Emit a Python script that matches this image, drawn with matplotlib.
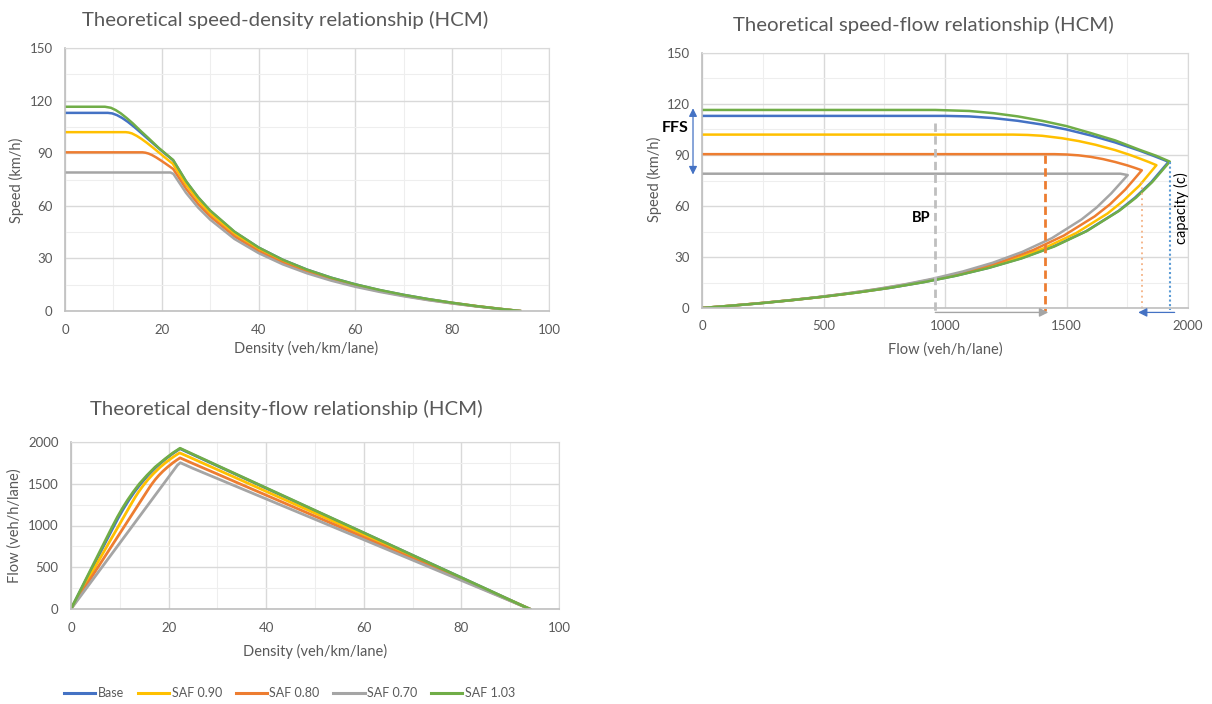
import matplotlib
matplotlib.use("Agg")
import matplotlib.pyplot as plt
from matplotlib.ticker import MultipleLocator
from matplotlib.lines import Line2D

W, H = 1212, 704
plt.rcParams['font.family'] = ['Lato', 'DejaVu Sans']

# ---------------- data ----------------
series_names = ["Base", "SAF 0.90", "SAF 0.80", "SAF 0.70", "SAF 1.03"]
series_colors = ["#4472C4", "#FFC000", "#ED7D31", "#A5A5A5", "#70AD47"]

base_density = [0, 8.85, 9.76, 10.74, 11.81, 12.97, 14.29, 15.76, 17.45, 19.44, 20.81, 22.33,
                25, 27.5, 30, 35, 40, 45, 50, 55, 60, 65, 70, 75, 80, 85, 90, 94]
base_speed = [113, 113, 112.7, 111.7, 110.1, 107.9, 105.0, 101.5, 97.4, 92.6, 89.4, 86.0,
              73.9, 64.8, 57.1, 45.1, 36.2, 29.2, 23.6, 19.0, 15.2, 11.9, 9.2, 6.8, 4.7, 2.8, 1.2, 0]
base_flow = [0, 1000, 1100, 1200, 1300, 1400, 1500, 1600, 1700, 1800, 1860, 1920,
             1848, 1781, 1714, 1580, 1446, 1312, 1178, 1044, 911, 777, 643, 509, 375, 241, 107, 0]

saf090_density = [0, 12.55, 13.16, 13.82, 14.81, 15.78, 16.88, 18.30, 19.53, 20.45, 21.44, 22.26,
                  25, 27.5, 30, 35, 40, 45, 50, 55, 60, 65, 70, 75, 80, 85, 90, 94]
saf090_speed = [102, 102, 101.8, 101.3, 99.9, 98.2, 96.0, 92.9, 90.1, 88.0, 85.8, 84.0,
                72.0, 63.1, 55.6, 44.0, 35.2, 28.4, 23.0, 18.5, 14.8, 11.6, 8.9, 6.6, 4.6, 2.8, 1.2, 0]
saf090_flow = [0, 1280, 1340, 1400, 1480, 1550, 1620, 1700, 1760, 1800, 1840, 1870,
               1800, 1734, 1669, 1539, 1408, 1278, 1148, 1017, 887, 756, 626, 496, 365, 235, 104, 0]

saf080_density = [0, 16.02, 16.61, 17.26, 18.00, 18.84, 19.79, 20.86, 21.58, 22.35,
                  25, 27.5, 30, 35, 40, 45, 50, 55, 60, 65, 70, 75, 80, 85, 90, 94]
saf080_speed = [90.5, 90.5, 90.3, 89.8, 88.9, 87.6, 85.9, 83.9, 82.5, 81.0,
                69.7, 61.0, 53.9, 42.6, 34.1, 27.5, 22.2, 17.9, 14.3, 11.3, 8.7, 6.4, 4.4, 2.7, 1.1, 0]
saf080_flow = [0, 1450, 1500, 1550, 1600, 1650, 1700, 1750, 1780, 1810,
               1742, 1679, 1616, 1489, 1363, 1237, 1111, 985, 858, 732, 606, 480, 353, 227, 101, 0]

saf070_density = [0, 21.8, 22.4, 25, 27.5, 30, 35, 40, 45, 50, 55, 60, 65, 70, 75, 80, 85, 90, 94]
saf070_speed = [79, 79, 78.2, 67.4, 59.0, 52.1, 41.1, 33.0, 26.6, 21.5, 17.3, 13.8, 10.9, 8.4, 6.2, 4.3, 2.6, 1.1, 0]
saf070_flow = [0, 1722, 1752, 1684, 1623, 1562, 1440, 1318, 1196, 1074, 952, 830, 708, 586, 464, 342, 220, 98, 0]

saf103_density = [0, 8.24, 9.49, 10.47, 11.54, 12.72, 14.02, 15.55, 17.24, 19.33, 20.89, 22.35,
                  25, 27.5, 30, 35, 40, 45, 50, 55, 60, 65, 70, 75, 80, 85, 90, 94]
saf103_speed = [116.5, 116.5, 115.9, 114.6, 112.7, 110.1, 107.0, 102.9, 98.6, 93.1, 89.5, 86.1,
                74.1, 64.9, 57.3, 45.3, 36.2, 29.2, 23.6, 19.0, 15.2, 12.0, 9.2, 6.8, 4.7, 2.8, 1.2, 0]
saf103_flow = [0, 960, 1100, 1200, 1300, 1400, 1500, 1600, 1700, 1800, 1870, 1925,
               1853, 1786, 1718, 1584, 1450, 1316, 1181, 1047, 913, 779, 644, 510, 376, 242, 107, 0]

all_density = [base_density, saf090_density, saf080_density, saf070_density, saf103_density]
all_speed = [base_speed, saf090_speed, saf080_speed, saf070_speed, saf103_speed]
all_flow = [base_flow, saf090_flow, saf080_flow, saf070_flow, saf103_flow]

# annotation values (speed-flow chart)
bp_flow = 960
bp_dash_top = 109
sat_flow = 1410
sat_speed = 90
cap_flow_saf080 = 1809
cap_flow = 1924
cap_speed = 86
ffs_top, ffs_bottom = 117.5, 78.5

TXT = "#595959"

fig = plt.figure(figsize=(W / 100, H / 100), dpi=100)


def px_axes(l, t, r, b):
    return fig.add_axes([l / W, 1 - b / H, (r - l) / W, (b - t) / H])


def style(ax, xmax, xmaj, xmin, ymax, ymaj, ymin):
    ax.set_xlim(0, xmax)
    ax.set_ylim(0, ymax)
    ax.xaxis.set_major_locator(MultipleLocator(xmaj))
    ax.xaxis.set_minor_locator(MultipleLocator(xmin))
    ax.yaxis.set_major_locator(MultipleLocator(ymaj))
    ax.yaxis.set_minor_locator(MultipleLocator(ymin))
    ax.grid(which='major', color='#D9D9D9', lw=1.0)
    ax.grid(which='minor', color='#EEEEEE', lw=0.8)
    ax.set_axisbelow(True)
    ax.tick_params(which='both', length=0, labelsize=9.5, colors=TXT)
    ax.tick_params(axis='x', pad=9)
    ax.tick_params(axis='y', pad=9)
    for s in ['top', 'right']:
        ax.spines[s].set_color('#D9D9D9')
    for s in ['left', 'bottom']:
        ax.spines[s].set_color('#BFBFBF')
        ax.spines[s].set_linewidth(1.2)


def ftext(x, y, s, **kw):
    fig.text(x / W, 1 - y / H, s, ha='center', va='center', color=TXT, **kw)


# ---------------- speed-density ----------------
ax1 = px_axes(65, 48, 549, 311)
style(ax1, 100, 20, 10, 150, 30, 15)
for d, s, c in zip(all_density, all_speed, series_colors):
    ax1.plot(d, s, color=c, lw=1.8, solid_joinstyle='round')
ftext(285, 20, "Theoretical speed-density relationship (HCM)", fontsize=14.7)
ftext(306, 348, "Density (veh/km/lane)", fontsize=10.5)
ftext(16, 180, "Speed (km/h)", fontsize=10.5, rotation=90)

# ---------------- speed-flow ----------------
ax2 = px_axes(702, 53, 1188, 308)
style(ax2, 2000, 500, 250, 150, 30, 15)
for q, s, c in zip(all_flow, all_speed, series_colors):
    ax2.plot(q, s, color=c, lw=1.8, solid_joinstyle='round')
ftext(923, 25, "Theoretical speed-flow relationship (HCM)", fontsize=14.7)
ftext(945, 350, "Flow (veh/h/lane)", fontsize=10.5)
ftext(654, 179, "Speed (km/h)", fontsize=10.5, rotation=90)

trans = ax2.get_yaxis_transform()
ax2.annotate("", xy=(-0.0185, ffs_top), xytext=(-0.0185, ffs_bottom),
             xycoords=trans, textcoords=trans, annotation_clip=False,
             arrowprops=dict(arrowstyle="<|-|>", color="#4472C4", lw=0.9,
                             mutation_scale=12, shrinkA=0, shrinkB=0))
ax2.text(-0.056, 106, "FFS", transform=trans, fontweight='bold', fontsize=11.5,
         ha='center', va='center', color='black', clip_on=False)
ax2.plot([bp_flow, bp_flow], [bp_dash_top, -1.5], color='#BFBFBF', lw=2,
         ls=(0, (3, 1.6)), clip_on=False)
ax2.text(900, 53, "BP", fontweight='bold', fontsize=10.5, ha='center',
         va='center', color='black')
ax2.plot([sat_flow, sat_flow], [sat_speed, -1.5], color='#ED7D31', lw=2,
         ls=(0, (3, 1.6)), clip_on=False)
ax2.plot([cap_flow_saf080, cap_flow_saf080], [74, -1], color='#F4B183', lw=1.3,
         ls=(0, (1, 2)), clip_on=False)
ax2.plot([cap_flow, cap_flow], [cap_speed, -1], color='#5B9BD5', lw=1.5,
         ls=(0, (1, 1.2)), clip_on=False)
ax2.annotate("", xy=(sat_flow + 15, -2.6), xytext=(bp_flow, -2.6),
             annotation_clip=False,
             arrowprops=dict(arrowstyle="-|>", color="#A5A5A5", lw=1.0,
                             mutation_scale=13, shrinkA=0, shrinkB=0))
ax2.annotate("", xy=(1795, -2.6), xytext=(1945, -2.6),
             annotation_clip=False,
             arrowprops=dict(arrowstyle="-|>", color="#4472C4", lw=0.9,
                             mutation_scale=13, shrinkA=0, shrinkB=0))
ax2.text(1975, 59, "capacity (c)", rotation=90, fontsize=10.5, ha='center',
         va='center', color='black')

# ---------------- density-flow ----------------
ax3 = px_axes(71, 442, 559, 609)
style(ax3, 100, 20, 10, 2000, 500, 250)
for d, q, c in zip(all_density, all_flow, series_colors):
    ax3.plot(d, q, color=c, lw=2.0, solid_joinstyle='round')
ftext(286, 409, "Theoretical density-flow relationship (HCM)", fontsize=14.7)
ftext(315, 651, "Density (veh/km/lane)", fontsize=10.5)
ftext(15, 526, "Flow (veh/h/lane)", fontsize=10.5, rotation=90)

# ---------------- legend ----------------
handles = [Line2D([], [], color=c, lw=2.2) for c in series_colors]
leg = fig.legend(handles, series_names, loc='center', bbox_to_anchor=(289.5 / W, 1 - 693 / H),
                 ncol=5, frameon=False, fontsize=9, handlelength=2.5,
                 handletextpad=0.2, columnspacing=1.1)
for t in leg.get_texts():
    t.set_color(TXT)

fig.savefig("out.png", dpi=100)
